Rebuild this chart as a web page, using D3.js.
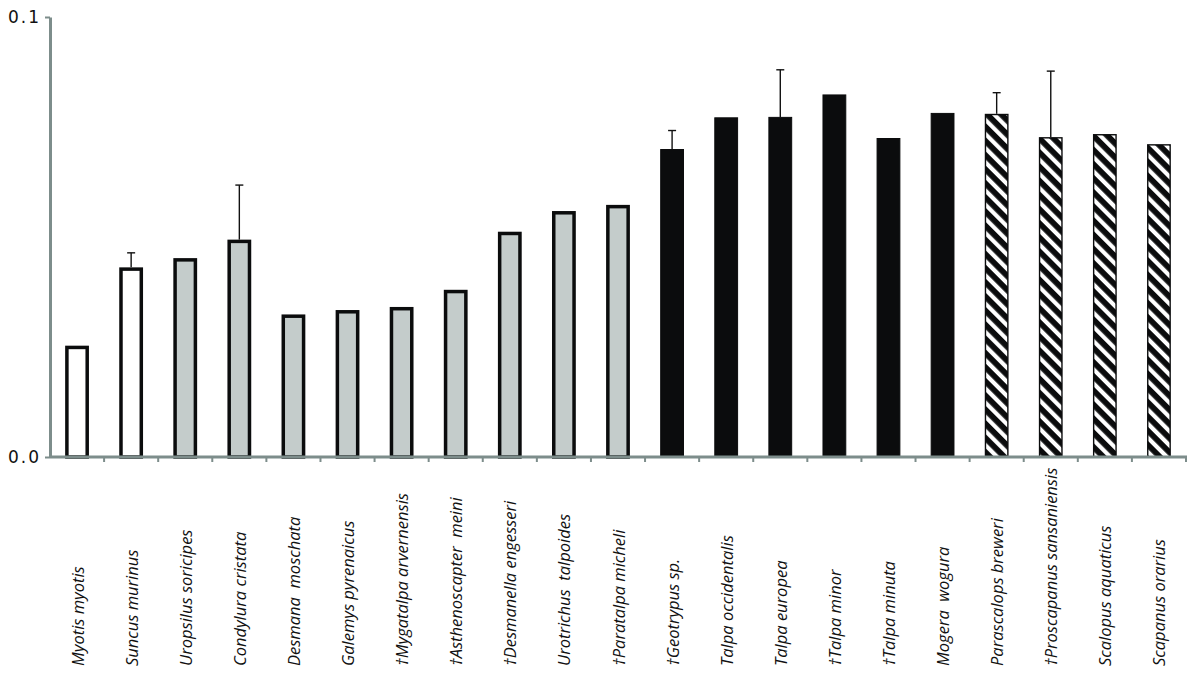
<!DOCTYPE html>
<html>
<head>
<meta charset="utf-8">
<script src="https://cdn.jsdelivr.net/npm/d3@7"></script>
<style>
    body { margin: 0; background: #fff; }
    .sp { font-family: "Open Sans", sans-serif; font-style: italic; font-size: 16.5px; fill: #111; }
</style>
</head>
<body>
<div id="chart"></div>
<script>
// species, left to right
let species = ["Myotis myotis", "Suncus murinus", "Uropsilus soricipes", "Condylura cristata",
    "Desmana  moschata", "Galemys pyrenaicus", "\u2020Mygatalpa arvernensis", "\u2020Asthenoscapter  meini",
    "\u2020Desmanella engesseri", "Urotrichus  talpoides", "\u2020Paratalpa micheli", "\u2020Geotrypus sp.",
    "Talpa occidentalis", "Talpa europea", "\u2020Talpa minor", "\u2020Talpa minuta", "Mogera  wogura",
    "Parascalops breweri", "\u2020Proscapanus sansaniensis", "Scalopus aquaticus", "Scapanus orarius"];

let values = [0.0253, 0.0431, 0.0452, 0.0494, 0.0324, 0.0334, 0.0341, 0.0380, 0.0512, 0.0559, 0.0573,
    0.0700, 0.0772, 0.0773, 0.0824, 0.0725, 0.0782, 0.0780, 0.0727, 0.0734, 0.0711];

// upper end of the error bar, null where none is drawn
let errTop = [null, 0.0464, null, 0.0618, null, null, null, null, null, null, null,
    0.0742, null, 0.0880, null, null, null, 0.0828, 0.0877, null, null];

// fill group of each bar
let groups = ["open", "open", "gray", "gray", "gray", "gray", "gray", "gray", "gray", "gray", "gray",
    "black", "black", "black", "black", "black", "black", "hatch", "hatch", "hatch", "hatch"];

let yTicks = [0, 0.1];

let svg = d3.select("#chart")
    .append("svg")
    .attr("width", 1200)
    .attr("height", 676);

// diagonal stripes for the last group
svg.append("defs")
    .append("pattern")
    .attr("id", "stripes")
    .attr("patternUnits", "userSpaceOnUse")
    .attr("width", 10)
    .attr("height", 10)
    .attr("patternTransform", "rotate(-45)")
    .call(p => {
        p.append("rect").attr("width", 10).attr("height", 10).attr("fill", "#0b0c0d");
        p.append("rect").attr("x", 0).attr("width", 4.2).attr("height", 10).attr("fill", "#fff");
    });

let x = d3.scaleBand()
    .domain(species)
    .range([50, 1186])
    .paddingInner(0.56)
    .paddingOuter(0.28);

let y = d3.scaleLinear()
    .domain([0, 0.1])
    .range([457, 17]);

let axisColor = "#7d8d8b";

let fills = { open: "#ffffff", gray: "#c4cccb", black: "#0b0c0d", hatch: "url(#stripes)" };
let strokeW = { open: 3.5, gray: 3.5, black: 1, hatch: 1.4 };

// bars
svg.append("g")
    .selectAll("rect")
    .data(species)
    .enter()
    .append("rect")
    .attr("x", (d, i) => x(d) + strokeW[groups[i]] / 2)
    .attr("width", (d, i) => x.bandwidth() - strokeW[groups[i]])
    .attr("y", (d, i) => y(values[i]) + strokeW[groups[i]] / 2)
    .attr("height", (d, i) => y(0) - y(values[i]) - strokeW[groups[i]] / 2)
    .attr("fill", (d, i) => fills[groups[i]])
    .attr("stroke", "#0b0c0d")
    .attr("stroke-width", (d, i) => strokeW[groups[i]]);

// error bars
let errs = species.map((d, i) => ({ s: d, v: values[i], e: errTop[i] })).filter(d => d.e !== null);

let eg = svg.append("g").attr("stroke", "#111").attr("stroke-width", 1.4);

eg.selectAll("line.stem")
    .data(errs)
    .enter()
    .append("line")
    .attr("class", "stem")
    .attr("x1", d => x(d.s) + x.bandwidth() / 2)
    .attr("x2", d => x(d.s) + x.bandwidth() / 2)
    .attr("y1", d => y(d.v))
    .attr("y2", d => y(d.e));

eg.selectAll("line.cap")
    .data(errs)
    .enter()
    .append("line")
    .attr("class", "cap")
    .attr("x1", d => x(d.s) + x.bandwidth() / 2 - 4)
    .attr("x2", d => x(d.s) + x.bandwidth() / 2 + 4)
    .attr("y1", d => y(d.e))
    .attr("y2", d => y(d.e));

// x axis: ticks between categories
let xTicks = d3.range(species.length + 1).map(i => 50 + i * (1136 / species.length));

let xAxis = svg.append("g");
xAxis.append("line")
    .attr("x1", 50).attr("x2", 1187)
    .attr("y1", y(0)).attr("y2", y(0))
    .attr("stroke", axisColor)
    .attr("stroke-width", 3);
xAxis.selectAll("line.tick")
    .data(xTicks.slice(1))
    .enter()
    .append("line")
    .attr("class", "tick")
    .attr("x1", d => d).attr("x2", d => d)
    .attr("y1", y(0)).attr("y2", y(0) + 5)
    .attr("stroke", axisColor)
    .attr("stroke-width", 2);

// y axis
let yAxis = svg.append("g")
    .attr("transform", "translate(50,0)")
    .call(d3.axisLeft(y).tickValues(yTicks).tickFormat(d3.format(".1f")).tickSize(5).tickSizeOuter(0).tickPadding(4));
yAxis.select(".domain").attr("stroke", axisColor).attr("stroke-width", 3);
yAxis.selectAll(".tick line").attr("stroke", axisColor).attr("stroke-width", 2);
yAxis.selectAll(".tick text")
    .style("font-family", "'DejaVu Sans', sans-serif")
    .style("font-size", "17px")
    .style("letter-spacing", "2px")
    .style("fill", "#111");

// species labels, rotated
svg.append("g")
    .selectAll("text")
    .data(species)
    .enter()
    .append("text")
    .attr("class", "sp")
    .attr("xml:space", "preserve")
    .attr("transform", d => "translate(" + (x(d) + x.bandwidth() / 2 + 6.5) + ",666) rotate(-90)")
    .text(d => d);
</script>
</body>
</html>
